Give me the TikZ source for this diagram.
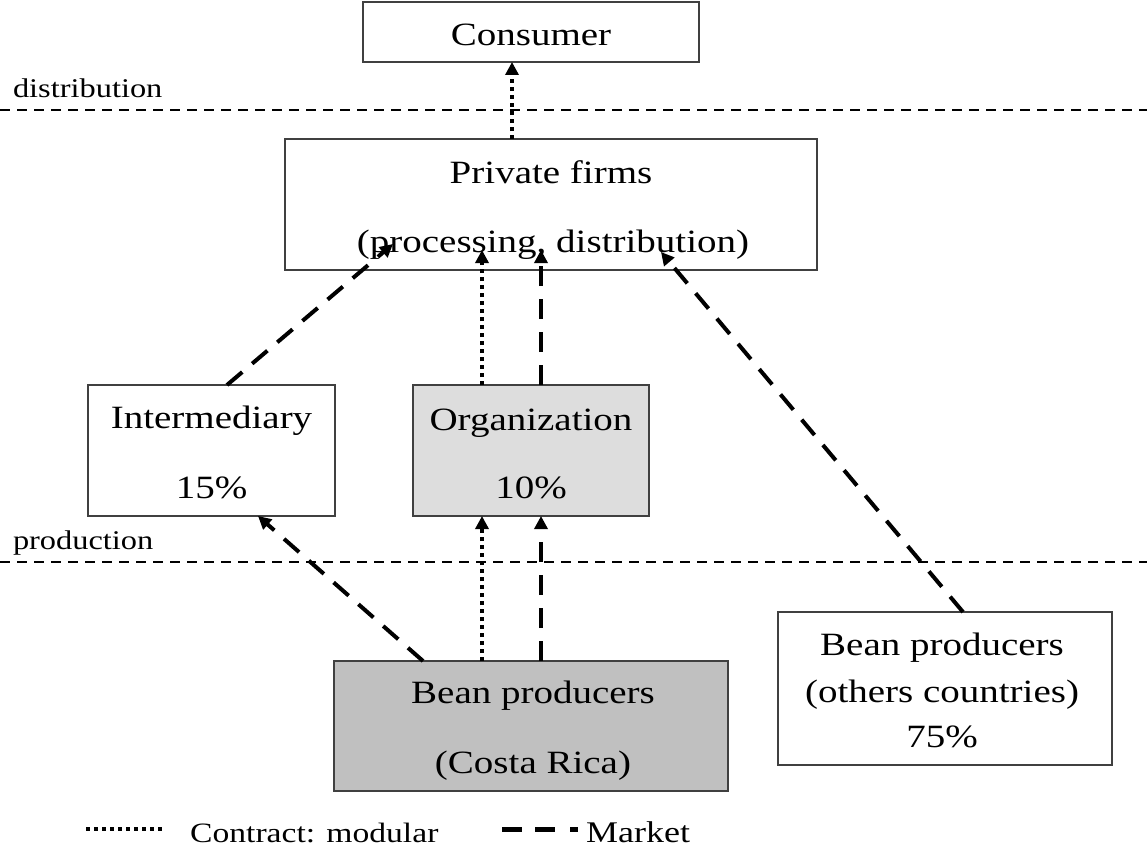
\documentclass[tikz,border=0pt]{standalone}
\usepackage{fontspec}
\setmainfont{Liberation Serif}[FakeStretch=1.2]
\usetikzlibrary{arrows.meta,calc}
\definecolor{orgfill}{HTML}{DDDDDD}
\definecolor{crfill}{HTML}{C0C0C0}
\definecolor{boxline}{HTML}{404040}
\tikzset{
  box/.style={draw=boxline, line width=1.5pt, inner sep=0pt, outer sep=0pt, rectangle},
  lbl/.style={inner sep=0pt, outer sep=0pt, font=\fontsize{32.5}{38}\selectfont},
  small/.style={inner sep=0pt, outer sep=0pt, font=\fontsize{27}{32}\selectfont},
  sep/.style={line width=2pt, dash pattern=on 10pt off 7pt},
  contract/.style={line width=4pt, dash pattern=on 4pt off 4pt, -{Triangle[length=13pt,width=13pt]}},
  market/.style={line width=4pt, dash pattern=on 20pt off 13pt, -{Triangle[length=13pt,width=13pt]}}
}
\begin{document}
\begin{tikzpicture}[x=1pt,y=-1pt]
\useasboundingbox (0,0) rectangle (1147,848);
\fill[white] (0,0) rectangle (1147,848);

% separator lines
\coordinate (dl) at (0,110);
\coordinate (dr) at (1147,110);
\coordinate (pl) at (0,562);
\coordinate (pr) at (1147,562);
\draw[sep] (dl) -- (dr);
\draw[sep] (pl) -- (pr);
\node[small, anchor=base west] (ldist) at (13,98) {distribution};
\node[small, anchor=base west] (lprod) at (13,549) {production};

% boxes
\node[box, minimum width=336pt, minimum height=60pt] (consumer) at (531,32) {};
\node[box, minimum width=532pt, minimum height=131pt] (pf) at (551,204.5) {};
\node[box, minimum width=247pt, minimum height=131pt] (inter) at (211.5,450.5) {};
\node[box, fill=orgfill, minimum width=236pt, minimum height=131pt] (org) at (531,450.5) {};
\node[box, fill=crfill, minimum width=394pt, minimum height=130pt] (cr) at (531,726) {};
\node[box, minimum width=334pt, minimum height=153pt] (others) at (945,688.5) {};

% texts
\node[lbl, anchor=base] (tcons) at (531,46) {Consumer};
\node[lbl, anchor=base] (tpf1) at (551,183) {Private firms};
\node[lbl, anchor=base] (tpf2) at (553,252) {(processing, distribution)};
\node[lbl, anchor=base] (tint1) at (211.5,428) {Intermediary};
\node[lbl, anchor=base] (tint2) at (211.5,498) {15\%};
\node[lbl, anchor=base] (torg1) at (531,430) {Organization};
\node[lbl, anchor=base] (torg2) at (531,498) {10\%};
\node[lbl, anchor=base] (tcr1) at (533,703) {Bean producers};
\node[lbl, anchor=base] (tcr2) at (533,773) {(Costa Rica)};
\node[lbl, anchor=base] (toth1) at (942,655) {Bean producers};
\node[lbl, anchor=base] (toth2) at (942,702) {(others countries)};
\node[lbl, anchor=base] (toth3) at (942,747) {75\%};

% helper coordinates
\coordinate (xc) at (512,0);
\coordinate (xa) at (482,0);
\coordinate (xb) at (541,0);
\coordinate (xi) at (227,0);
\coordinate (xcr) at (423,0);
\coordinate (xis) at (258,0);
\coordinate (xo) at (963,0);
\coordinate (pfa) at (482,250);
\coordinate (pfb) at (541,250);
\coordinate (pfl) at (393,244);
\coordinate (pfr) at (661,252);

% connectors
\draw[contract] (pf.north -| xc) -- (consumer.south -| xc);
\draw[market] (inter.north -| xi) -- (pfl);
\draw[contract] (org.north -| xa) -- (pfa);
\draw[market] (org.north -| xb) -- (pfb);
\draw[market] (others.north -| xo) -- (pfr);
\draw[market] (cr.north -| xcr) -- (inter.south -| xis);
\draw[contract] (cr.north -| xa) -- (org.south -| xa);
\draw[market] (cr.north -| xb) -- (org.south -| xb);

% legend
\coordinate (lg1a) at (86,829);
\coordinate (lg1b) at (162,829);
\coordinate (lg2a) at (502,829);
\coordinate (lg2b) at (578,829);
\draw[line width=4pt, dash pattern=on 4pt off 4pt] (lg1a) -- (lg1b);
\draw[line width=5pt, dash pattern=on 20pt off 13pt on 20pt off 15pt on 8pt off 100pt] (lg2a) -- (lg2b);
\node[inner sep=0pt, font=\fontsize{28}{33}\selectfont, anchor=base west] (tleg1) at (190,842) {Contract: modular};
\node[inner sep=0pt, font=\fontsize{30}{36}\selectfont, anchor=base west] (tleg2) at (586,842) {Market};
\end{tikzpicture}
\end{document}
